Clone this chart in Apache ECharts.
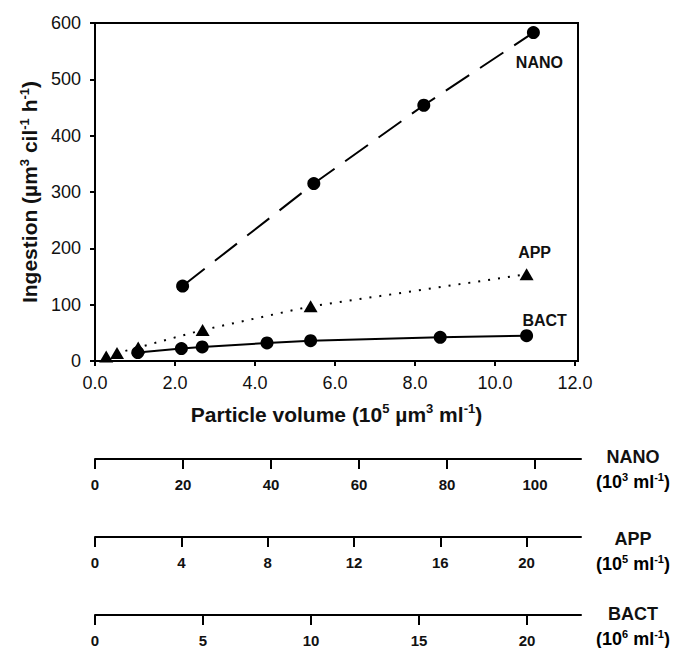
<!DOCTYPE html>
<html>
<head>
<meta charset="utf-8">
<script src="https://cdn.jsdelivr.net/npm/echarts@6/dist/echarts.min.js"></script>
<style>
html,body{margin:0;padding:0;background:#fff}
#chart{width:685px;height:648px}
</style>
</head>
<body>
<div id="chart"></div>
<script>
// values
const nanoX = [2.19, 5.47, 8.22, 10.96]
const nanoY = [133, 315, 454, 583]
const appX = [0.28, 0.55, 1.08, 2.69, 5.39, 10.79]
const appY = [8, 14, 24, 55, 97, 154]
const bactX = [1.07, 2.16, 2.68, 4.30, 5.39, 8.63, 10.79]
const bactY = [15, 22, 25, 32, 36, 42, 45]

const volTicks = [0, 2, 4, 6, 8, 10, 12]
const nanoTicks = [0, 20, 40, 60, 80, 100]
const appTicks = [0, 4, 8, 12, 16, 20]
const bactTicks = [0, 5, 10, 15, 20]

const FONT = '"Liberation Sans", Arial, Helvetica, sans-serif'
const INK = '#111'

function pts(xs, ys, label){
    return xs.map(function(x, i){
        const d = {value: [x, ys[i]]}
        if (i === xs.length - 1) d.label = label
        return d
    })
}
function tag(text, off){
    return {show: true, position: 'inside', offset: off, formatter: text,
        fontSize: 16, fontWeight: 'bold', fontFamily: FONT, color: INK}
}
function supRich(size){
    return {
        b: {fontSize: size, fontWeight: 'bold', fontFamily: FONT, color: INK, lineHeight: size + 3},
        s: {fontSize: Math.round(size * 0.62), fontWeight: 'bold', fontFamily: FONT, color: INK,
            verticalAlign: 'top', lineHeight: Math.round(size * 0.62)}
    }
}
function scaleAxis(grid, max, ticks){
    return {
        gridIndex: grid, type: 'value', min: 0, max: max,
        axisLine: {onZero: false, lineStyle: {color: '#000', width: 2}},
        axisTick: {customValues: ticks, length: 10, lineStyle: {color: '#000', width: 2}},
        axisLabel: {customValues: ticks, margin: 18, fontSize: 15, fontWeight: 'bold', fontFamily: FONT, color: INK},
        splitLine: {show: false}
    }
}
function hiddenY(grid){
    return {gridIndex: grid, type: 'value', show: false, min: 0, max: 1}
}
function unitText(x, y, name, unit){
    return [
        {type: 'text', x: x, y: y, style: {text: name, align: 'center', verticalAlign: 'middle',
            fontSize: 18, fontWeight: 'bold', fontFamily: FONT, fill: INK}},
        {type: 'text', x: x, y: y + 25, style: {text: unit, align: 'center', verticalAlign: 'middle',
            rich: supRich(18)}}
    ]
}

const chart = echarts.init(document.getElementById('chart'), null, {renderer: 'svg'})

chart.setOption({
    animation: false,
    backgroundColor: '#fff',
    grid: [
        {left: 95, top: 23, width: 483, height: 338, show: true, borderColor: '#000', borderWidth: 2},
        {left: 95, top: 449, width: 486, height: 10},
        {left: 95, top: 527, width: 486, height: 10},
        {left: 95, top: 606, width: 486, height: 10}
    ],
    xAxis: [
        {
            gridIndex: 0, type: 'value', min: 0, max: 12.075,
            axisLine: {onZero: false, lineStyle: {color: '#000', width: 2}},
            axisTick: {customValues: volTicks, length: 5, lineStyle: {color: '#000', width: 2}},
            axisLabel: {customValues: volTicks, formatter: function(v){ return v.toFixed(1) },
                margin: 13, fontSize: 18, fontFamily: FONT, color: INK},
            splitLine: {show: false},
            name: '{b|Particle volume (10}{s|5}{b| µm}{s|3}{b| ml}{s|-1}{b|)}',
            nameLocation: 'middle', nameGap: 41,
            nameTextStyle: {rich: supRich(21)}
        },
        scaleAxis(1, 110.45, nanoTicks),
        scaleAxis(2, 22.52, appTicks),
        scaleAxis(3, 22.5, bactTicks)
    ],
    yAxis: [
        {
            gridIndex: 0, type: 'value', min: 0, max: 600, interval: 100,
            axisLine: {lineStyle: {color: '#000', width: 2}},
            axisTick: {length: 5, lineStyle: {color: '#000', width: 2}},
            axisLabel: {margin: 14, fontSize: 18, fontFamily: FONT, color: INK},
            splitLine: {show: false},
            name: '{b|Ingestion (µm}{s|3}{b| cil}{s|-1}{b| h}{s|-1}{b|)}',
            nameLocation: 'middle', nameRotate: 90, nameGap: 53,
            nameTextStyle: {rich: supRich(21)}
        },
        hiddenY(1), hiddenY(2), hiddenY(3)
    ],
    graphic: [].concat(
        unitText(633, 457, 'NANO', '{b|(10}{s|3}{b| ml}{s|-1}{b|)}'),
        unitText(633, 539, 'APP', '{b|(10}{s|5}{b| ml}{s|-1}{b|)}'),
        unitText(633, 614, 'BACT', '{b|(10}{s|6}{b| ml}{s|-1}{b|)}')
    ),
    series: [
        {
            name: 'NANO', type: 'line', xAxisIndex: 0, yAxisIndex: 0,
            data: pts(nanoX, nanoY, tag('NANO', [6, 30])),
            symbol: 'circle', symbolSize: 13,
            itemStyle: {color: '#000'},
            lineStyle: {color: '#000', width: 2, type: [28, 13]},
            emphasis: {disabled: true}
        },
        {
            name: 'APP', type: 'line', xAxisIndex: 0, yAxisIndex: 0,
            data: pts(appX, appY, tag('APP', [8, -22])),
            symbol: 'triangle', symbolSize: [14, 12],
            itemStyle: {color: '#000'},
            lineStyle: {color: '#000', width: 2, type: [2, 8]},
            emphasis: {disabled: true}
        },
        {
            name: 'BACT', type: 'line', xAxisIndex: 0, yAxisIndex: 0,
            data: pts(bactX, bactY, tag('BACT', [18, -15])),
            symbol: 'circle', symbolSize: 13,
            itemStyle: {color: '#000'},
            lineStyle: {color: '#000', width: 2},
            emphasis: {disabled: true}
        }
    ]
})
</script>
</body>
</html>
